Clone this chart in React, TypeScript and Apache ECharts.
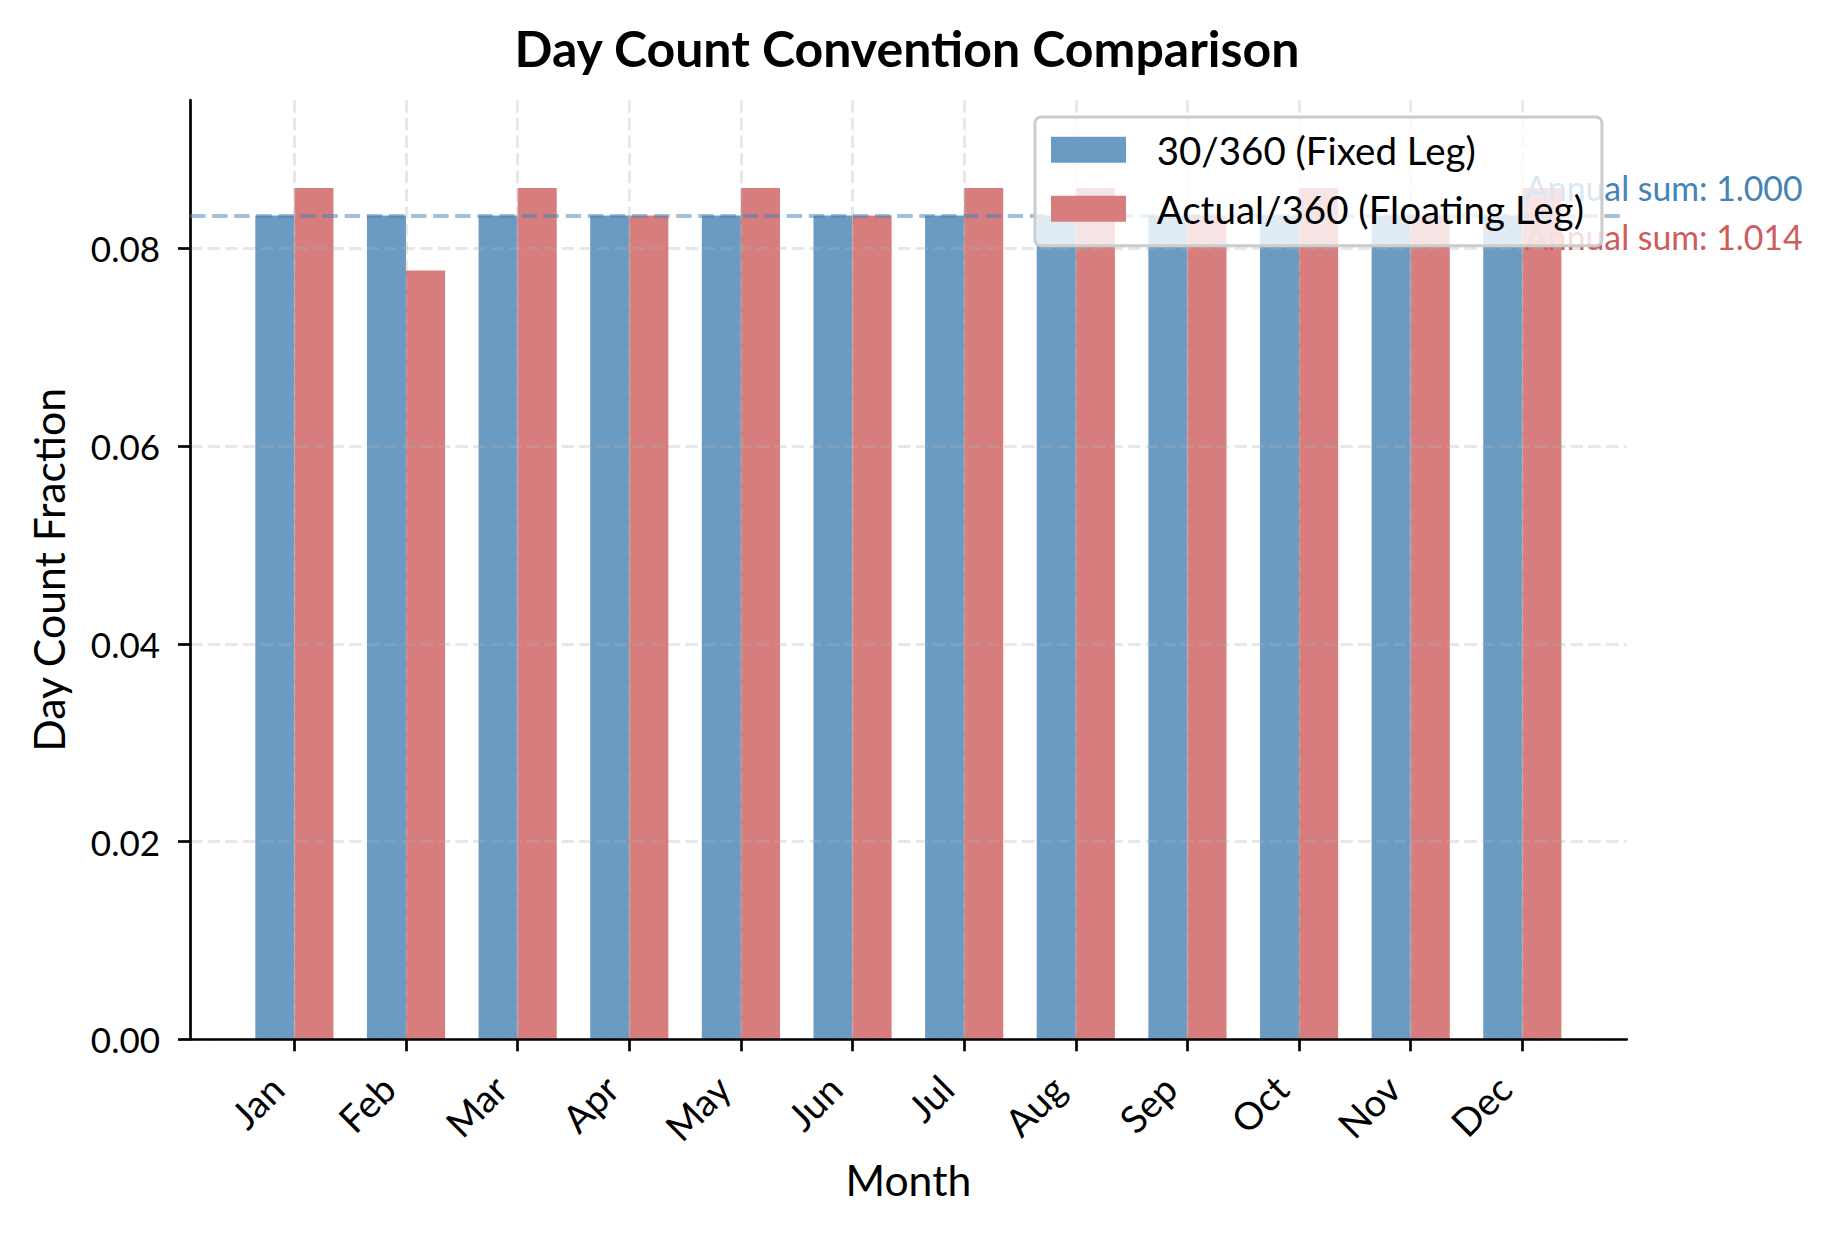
import React, { useEffect, useRef } from 'react'
import * as echarts from 'echarts'

const months = ['Jan', 'Feb', 'Mar', 'Apr', 'May', 'Jun', 'Jul', 'Aug', 'Sep', 'Oct', 'Nov', 'Dec']
const fixedLeg = [0.08333, 0.08333, 0.08333, 0.08333, 0.08333, 0.08333, 0.08333, 0.08333, 0.08333, 0.08333, 0.08333, 0.08333]
const floatingLeg = [0.08611, 0.07778, 0.08611, 0.08333, 0.08611, 0.08333, 0.08611, 0.08611, 0.08333, 0.08611, 0.08333, 0.08611]
const yTicks = [0, 0.02, 0.04, 0.06, 0.08]
const seriesNames = ['30/360 (Fixed Leg)', 'Actual/360 (Floating Leg)']

const FONT = 'Lato'

const App: React.FC = () => {
  const chartRef = useRef<HTMLDivElement>(null)

  useEffect(() => {
    if (!chartRef.current) return
    const chart = echarts.init(chartRef.current, undefined, { renderer: 'svg' })

    const idx = months.map((_, i) => i)
    const sumFixed = fixedLeg.reduce((a, b) => a + b, 0)
    const sumFloat = floatingLeg.reduce((a, b) => a + b, 0)

    const axisLine = { color: '#000', width: 2.7 }
    const gridLine = { color: 'rgba(176,176,176,0.3)', width: 3, type: [12.3, 5.4] as any }

    const option: echarts.EChartsOption = {
      animation: false,
      textStyle: { fontFamily: FONT },
      title: {
        text: 'Day Count Convention Comparison',
        left: 902,
        textAlign: 'center',
        top: 18,
        textStyle: { fontSize: 50, fontWeight: 'bold', color: '#000', fontFamily: FONT }
      },
      grid: { left: 190, right: 207.3, top: 100.2, bottom: 194.7 },
      legend: {
        orient: 'vertical',
        left: 1035,
        top: 117,
        z: 10,
        padding: [12.7, 18, 17, 16],
        itemWidth: 75,
        itemHeight: 26,
        itemGap: 19,
        icon: 'rect',
        backgroundColor: 'rgba(255,255,255,0.8)',
        borderColor: '#cccccc',
        borderWidth: 3,
        borderRadius: 6,
        textStyle: { fontSize: 38.5, color: '#000', lineHeight: 40, padding: [0, 0, 0, 25.7], fontFamily: FONT },
        data: seriesNames
      },
      xAxis: {
        type: 'value',
        min: -0.935,
        max: 11.935,
        z: 3,
        name: 'Month',
        nameLocation: 'middle',
        nameGap: 119,
        nameTextStyle: { fontSize: 42.7, color: '#000', fontFamily: FONT },
        axisLine: { show: true, onZero: false, lineStyle: axisLine },
        axisTick: { show: true, length: 12, customValues: idx, lineStyle: axisLine },
        axisLabel: {
          customValues: idx,
          rotate: 45,
          margin: 25,
          padding: [0, 25, 0, 0],
          fontSize: 38,
          color: '#000',
          formatter: (v: number) => months[Math.round(v)] ?? ''
        },
        splitLine: { show: true, lineStyle: gridLine }
      } as any,
      yAxis: {
        type: 'value',
        min: 0,
        max: 0.095,
        z: 3,
        name: 'Day Count Fraction',
        nameLocation: 'middle',
        nameGap: 120,
        nameTextStyle: { fontSize: 42.7, color: '#000', fontFamily: FONT },
        axisLine: { show: true, onZero: false, lineStyle: axisLine },
        axisTick: { show: true, length: 12, customValues: yTicks, lineStyle: axisLine },
        axisLabel: {
          customValues: yTicks,
          margin: 30,
          fontSize: 35,
          color: '#000',
          formatter: (v: number) => v.toFixed(2)
        },
        splitLine: { show: true, lineStyle: gridLine }
      } as any,
      series: [
        {
          name: seriesNames[0],
          type: 'bar',
          data: fixedLeg.map((v, i) => [i, v]),
          barWidth: '35%',
          barGap: '0%',
          itemStyle: { color: '#6b9bc3' },
          markLine: {
            silent: true,
            symbol: 'none',
            precision: 6,
            label: { show: false },
            lineStyle: { color: 'rgba(70,130,180,0.5)', width: 4, type: [15.4, 6.7] as any },
            data: [{ yAxis: sumFixed / fixedLeg.length }]
          }
        },
        {
          name: seriesNames[1],
          type: 'bar',
          data: floatingLeg.map((v, i) => [i, v]),
          barWidth: '35%',
          barGap: '0%',
          itemStyle: { color: '#d77d7d' }
        }
      ],
      graphic: [
        {
          type: 'text',
          z: 8,
          x: 1525,
          y: 187.5,
          style: { text: `Annual sum: ${sumFixed.toFixed(3)}`, font: `33.8px ${FONT}`, fill: '#4682B4', verticalAlign: 'middle' }
        },
        {
          type: 'text',
          z: 8,
          x: 1525,
          y: 236.5,
          style: { text: `Annual sum: ${sumFloat.toFixed(3)}`, font: `33.8px ${FONT}`, fill: '#CD5C5C', verticalAlign: 'middle' }
        }
      ]
    }

    chart.setOption(option)
    return () => chart.dispose()
  }, [])

  return <div ref={chartRef} style={{ position: 'absolute', left: 0, top: 0, width: 1834, height: 1234, background: '#fff' }} />
}

export default App
